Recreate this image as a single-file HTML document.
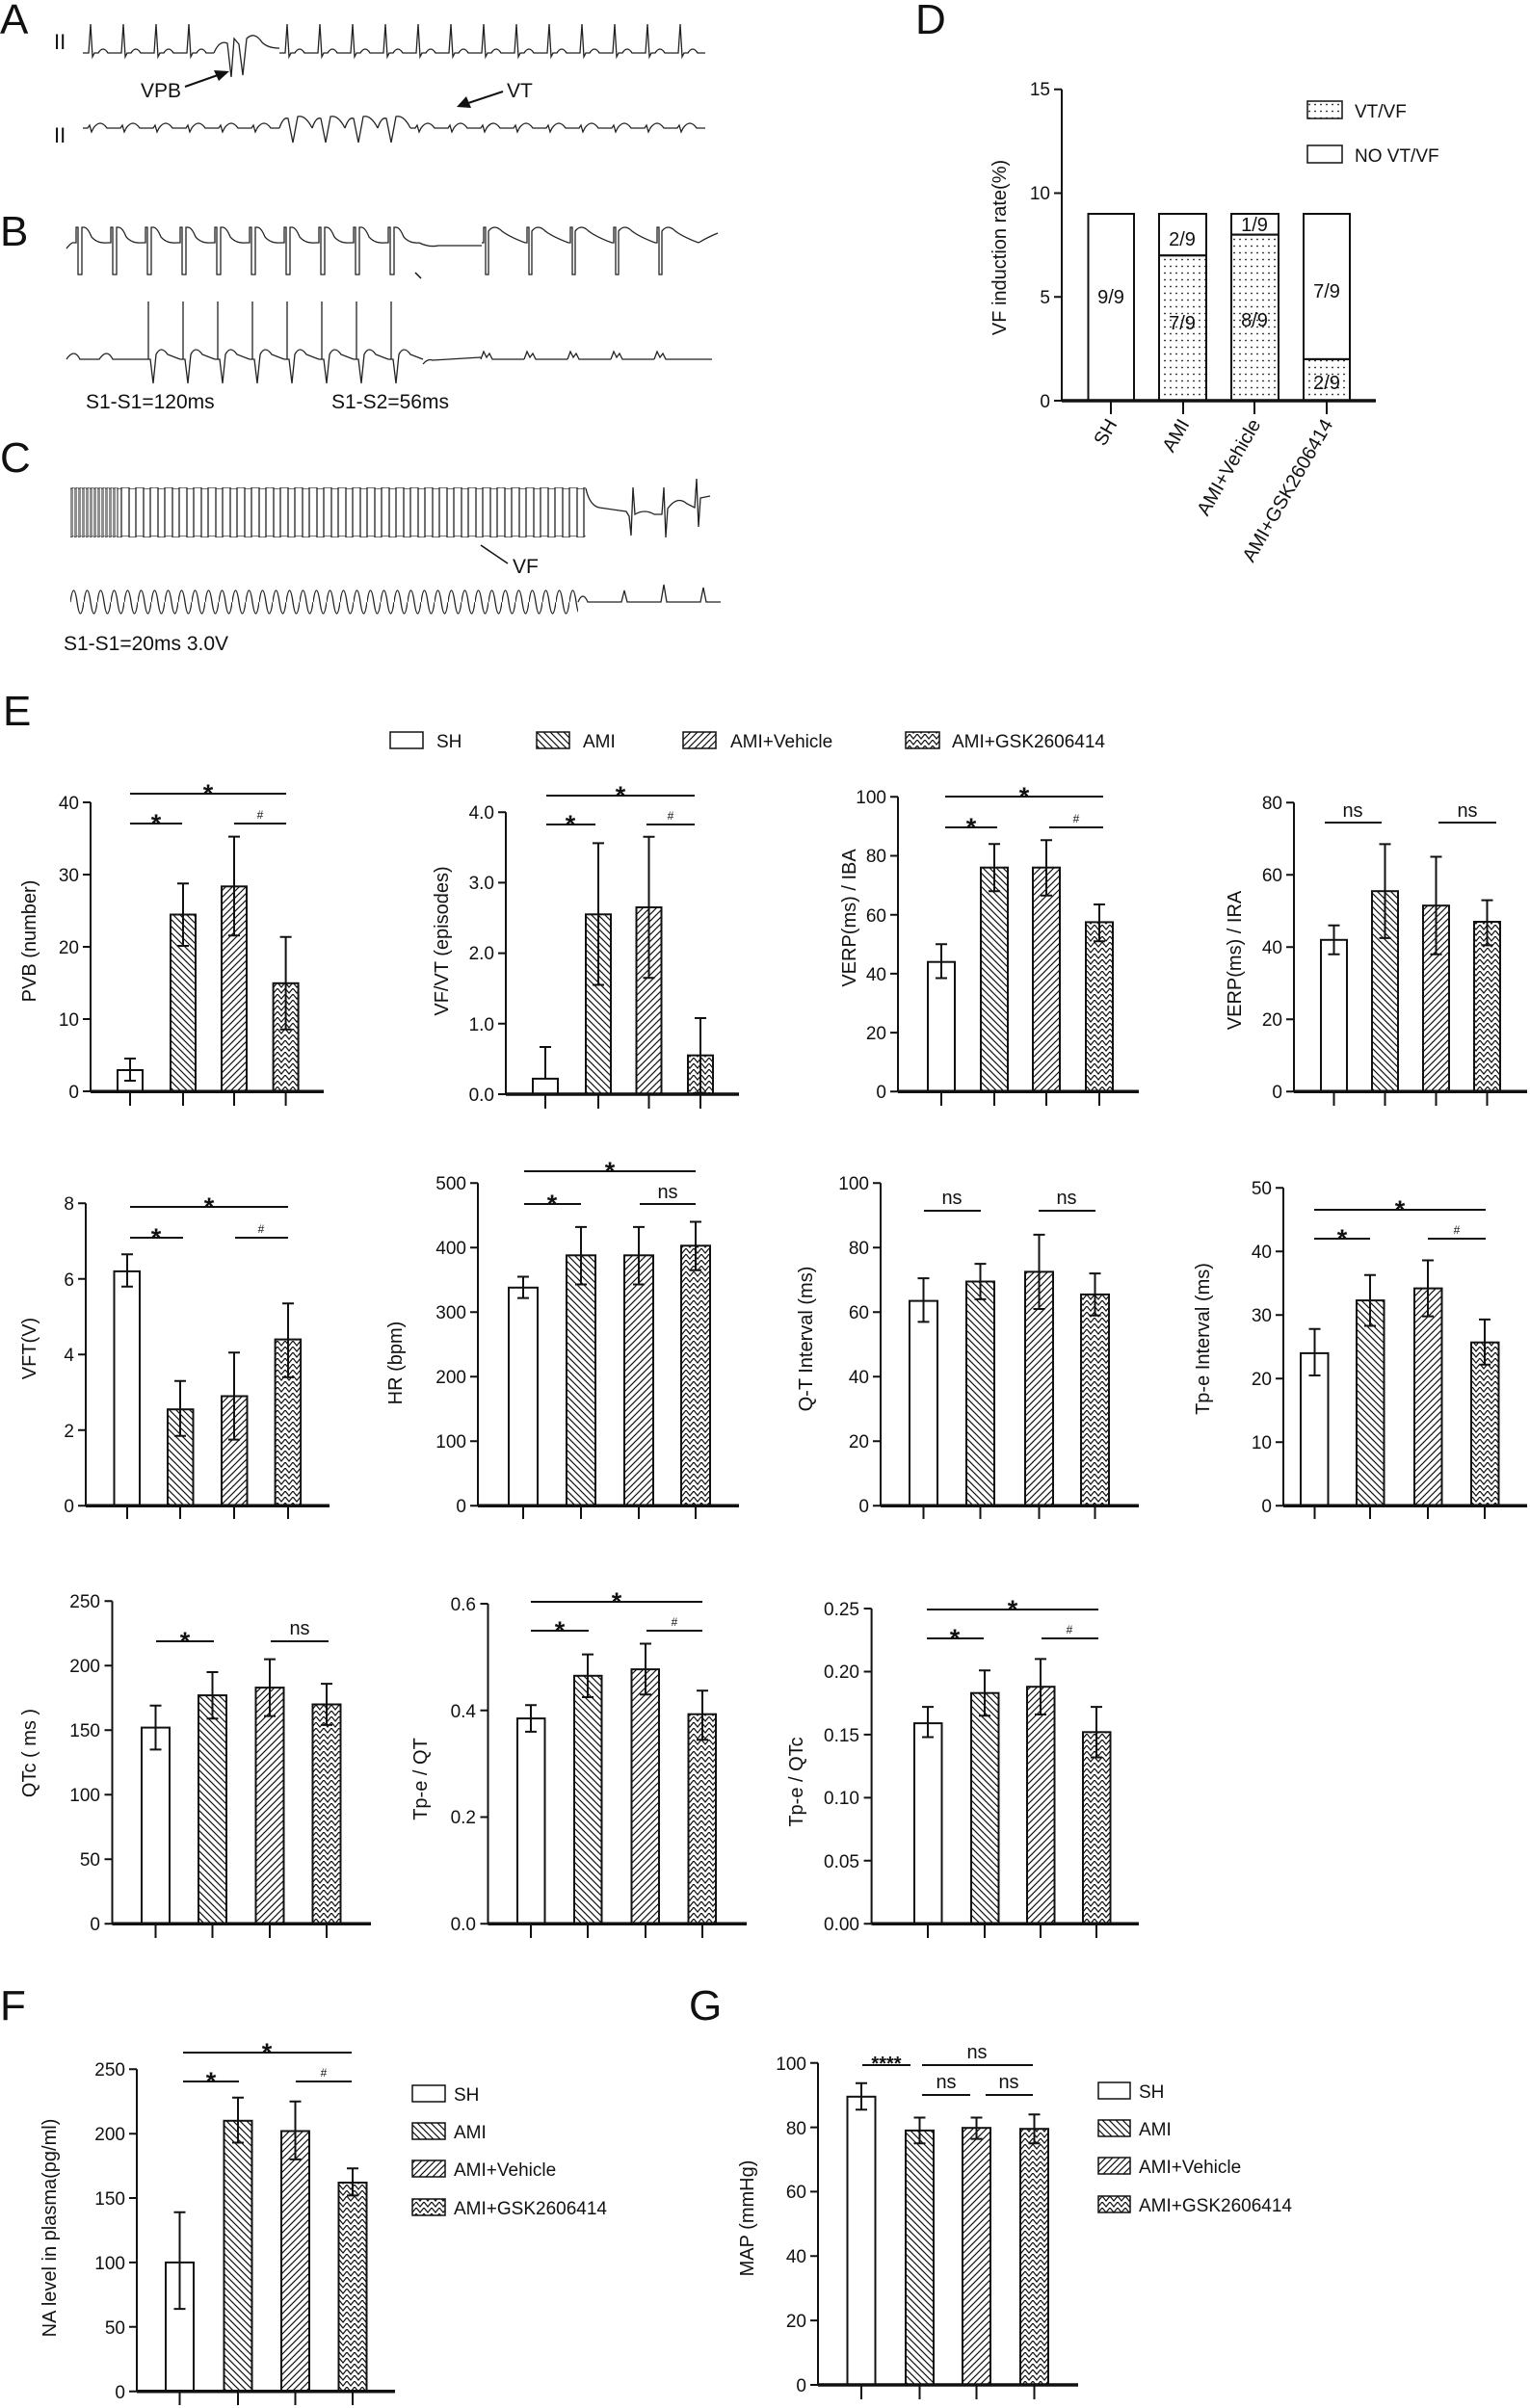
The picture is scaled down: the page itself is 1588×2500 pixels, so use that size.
<!DOCTYPE html>
<html><head><meta charset="utf-8"><style>
html,body{margin:0;padding:0;background:#fff}
svg{display:block}
text{font-family:"Liberation Sans Narrow","Liberation Sans",sans-serif;fill:#111}
.t{font-size:19px;text-anchor:end}
.yl{font-family:"Liberation Sans",sans-serif;font-size:20px;text-anchor:middle}
.L{font-size:44px}
.lg{font-size:19px}
.s{font-size:20px;text-anchor:middle}
.st{font-size:27px;font-weight:bold;text-anchor:middle;font-family:"Liberation Sans",sans-serif}
.h{font-size:12px;text-anchor:middle}
.ax{stroke:#111;stroke-width:2;fill:none}
.xa{stroke:#111;stroke-width:3.5;fill:none}
.b{stroke:#111;stroke-width:2}
.e{stroke:#111;stroke-width:2;fill:none}
.g{stroke:#222;stroke-width:1.3;fill:none}
</style></head><body>
<svg width="1588" height="2500" viewBox="0 0 1588 2500" xmlns="http://www.w3.org/2000/svg">
<defs>
<pattern id="hL" patternUnits="userSpaceOnUse" width="7" height="7"><path d="M-1,-1L8,8M-1,6L1,8M6,-1L8,1" stroke="#111" stroke-width="1.2"/></pattern>
<pattern id="hR" patternUnits="userSpaceOnUse" width="7" height="7"><path d="M-1,8L8,-1M-1,1L1,-1M6,8L8,6" stroke="#111" stroke-width="1.2"/></pattern>
<pattern id="zz" patternUnits="userSpaceOnUse" width="8" height="6"><path d="M0,0L4,5L8,0" stroke="#111" stroke-width="1.2" fill="none"/></pattern>
<pattern id="dt" patternUnits="userSpaceOnUse" width="6" height="7"><circle cx="3" cy="3.5" r="0.9" fill="#111"/></pattern>
<pattern id="sq" patternUnits="userSpaceOnUse" x="73" y="507" width="15" height="50"><path d="M0,50h1V0h7V50h7" stroke="#222" stroke-width="1.3" fill="none"/></pattern>
<pattern id="sq2" patternUnits="userSpaceOnUse" x="73" y="507" width="4" height="50"><path d="M0,50V0h2V50h2" stroke="#222" stroke-width="1" fill="none"/></pattern>
<pattern id="vf" patternUnits="userSpaceOnUse" x="73" y="605" width="14" height="40"><path d="M0,20q3.5,-24 7,0q3.5,24 7,0" stroke="#222" stroke-width="1.3" fill="none"/></pattern>
<path id="bA" d="M0,0h6l2,-30l2,34l2,-4h4q5,-8 10,0h8" class="g"/>
<path id="bA2" d="M0,0h5l2,-3l2,7l2,-4q7,-10 14,0h9" class="g"/>
<path id="bVT" d="M0,0q4,-12 9,-10l5,25l5,-27q8,-2 15,12" class="g"/>
<path id="bB" d="M0,0h4v-16h2v49h4v-49h2q4,0 8,10q6,7 16,6" class="g"/>
<path id="bB2" d="M0,0h2v-16h2v49h3v-45q6,-8 14,0q8,6 24,12" class="g"/>
<path id="bS" d="M0,0h3v-60v60h2l3,25l3,-30q5,-10 12,0l13,5" class="g"/>
<path id="bN" d="M0,0l3,-8l3,6l3,-4l3,6h33" class="g"/>
</defs>

<!-- A -->
<text x="0" y="35" class="L">A</text>
<text x="56" y="51" style="font-size:22px">II</text>
<text x="56" y="148" style="font-size:22px">II</text>
<g transform="translate(0,55)">
<use href="#bA" x="86"/><use href="#bA" x="120"/><use href="#bA" x="154"/><use href="#bA" x="188"/>
<use href="#bA" x="290"/><use href="#bA" x="324"/><use href="#bA" x="358"/><use href="#bA" x="392"/><use href="#bA" x="426"/><use href="#bA" x="460"/><use href="#bA" x="494"/><use href="#bA" x="528"/><use href="#bA" x="562"/><use href="#bA" x="596"/><use href="#bA" x="630"/><use href="#bA" x="664"/><use href="#bA" x="698"/>
</g>
<path class="g" d="M222,55q6,-14 14,-10l4,35l3,-40l5,6l4,32l4,-38q8,-8 16,4q6,6 18,6"/>
<g transform="translate(0,133)">
<use href="#bA2" x="86"/><use href="#bA2" x="120"/><use href="#bA2" x="154"/><use href="#bA2" x="188"/><use href="#bA2" x="222"/><use href="#bA2" x="256"/>
<use href="#bVT" x="290"/><use href="#bVT" x="324"/><use href="#bVT" x="358"/><use href="#bVT" x="392"/>
<use href="#bA2" x="426"/><use href="#bA2" x="460"/><use href="#bA2" x="494"/><use href="#bA2" x="528"/><use href="#bA2" x="562"/><use href="#bA2" x="596"/><use href="#bA2" x="630"/><use href="#bA2" x="664"/><use href="#bA2" x="698"/>
</g>
<text x="146" y="101" style="font-size:21px">VPB</text>
<path d="M192,90L226,78" stroke="#111" stroke-width="2"/><polygon points="238,74 222,73 227,84" fill="#111"/>
<text x="526" y="101" style="font-size:21px">VT</text>
<path d="M522,95L486,107" stroke="#111" stroke-width="2"/><polygon points="474,111 484,100 489,112" fill="#111"/>

<!-- B -->
<text x="0" y="255" class="L">B</text>
<path class="g" d="M69,258q3,-4 6,-6"/>
<g transform="translate(0,252)">
<use href="#bB" x="75"/><use href="#bB" x="111"/><use href="#bB" x="147"/><use href="#bB" x="183"/><use href="#bB" x="219"/><use href="#bB" x="255"/><use href="#bB" x="291"/><use href="#bB" x="327"/><use href="#bB" x="363"/><use href="#bB" x="399"/>
<use href="#bB2" x="500"/><use href="#bB2" x="545"/><use href="#bB2" x="590"/><use href="#bB2" x="635"/><use href="#bB2" x="680"/>
</g>
<path class="g" d="M435,252q10,5 20,3h45M725,252q10,-6 20,-10"/>
<path d="M431,283l6,6" stroke="#111" stroke-width="1.5"/>
<path class="g" d="M69,373q8,-12 14,0h20q8,-12 14,0h34"/>
<g transform="translate(0,373)">
<use href="#bS" x="151"/><use href="#bS" x="187"/><use href="#bS" x="223"/><use href="#bS" x="259"/><use href="#bS" x="295"/><use href="#bS" x="331"/><use href="#bS" x="367"/><use href="#bS" x="403"/>
<use href="#bN" x="499"/><use href="#bN" x="544"/><use href="#bN" x="589"/><use href="#bN" x="634"/><use href="#bN" x="679"/>
</g>
<path class="g" d="M439,378q5,-6 10,-4l50,-3M724,373h15"/>
<text x="89" y="424" style="font-size:21px">S1-S1=120ms</text>
<text x="344" y="424" style="font-size:21px">S1-S2=56ms</text>

<!-- C -->
<text x="0" y="490" class="L">C</text>
<rect x="73" y="506" width="50" height="52" fill="url(#sq2)"/>
<rect x="123" y="506" width="485" height="52" fill="url(#sq)"/>
<path class="g" d="M608,507q4,18 14,20l28,4l3,5l2,20l2,-50l2,28q10,-6 20,0l8,0l2,-28l2,52l2,-30q10,-14 20,-5l8,4l2,-30l2,50l2,-30l10,-2"/>
<path d="M499,566L527,585" stroke="#111" stroke-width="1.5"/>
<text x="532" y="595" style="font-size:21px">VF</text>
<rect x="73" y="605" width="527" height="40" fill="url(#vf)"/>
<path class="g" d="M600,625q5,-12 10,0h35l3,-12l3,12h35l3,-18l3,18h35l3,-15l3,15h15"/>
<text x="66" y="675" style="font-size:21px">S1-S1=20ms 3.0V</text>

<!-- D -->
<text x="950" y="35" class="L">D</text>
<path class="ax" d="M1102,92.7V416M1094,92.7h8M1094,200.5h8M1094,308.3h8M1094,416h8"/>
<text class="t" x="1090" y="99">15</text><text class="t" x="1090" y="207">10</text><text class="t" x="1090" y="315">5</text><text class="t" x="1090" y="423">0</text>
<text class="yl" transform="translate(1044,257) rotate(-90)">VF induction rate(%)</text>
<rect x="1129.5" y="222" width="47.5" height="194" fill="#fff" class="b"/>
<rect x="1203" y="222" width="49" height="43.2" fill="#fff" class="b"/><rect x="1203" y="265.2" width="49" height="150.8" fill="url(#dt)" class="b"/>
<rect x="1278" y="222" width="49" height="21.6" fill="#fff" class="b"/><rect x="1278" y="243.6" width="49" height="172.4" fill="url(#dt)" class="b"/>
<rect x="1353" y="222" width="48" height="150.9" fill="#fff" class="b"/><rect x="1353" y="372.9" width="48" height="43.1" fill="url(#dt)" class="b"/>
<text x="1153" y="315" class="s">9/9</text><text x="1227" y="255" class="s">2/9</text><text x="1227" y="342" class="s">7/9</text><text x="1302" y="240" class="s">1/9</text><text x="1302" y="339" class="s">8/9</text><text x="1377" y="309" class="s">7/9</text><text x="1377" y="404" class="s">2/9</text>
<path class="xa" d="M1102,416H1428"/>
<path class="ax" d="M1153,416v14M1228,416v14M1302,416v14M1377,416v14"/>
<g style="font-family:'Liberation Sans',sans-serif;font-size:20px;text-anchor:end">
<text transform="translate(1160,440) rotate(-60)">SH</text>
<text transform="translate(1235,440) rotate(-60)">AMI</text>
<text transform="translate(1309,440) rotate(-60)">AMI+Vehicle</text>
<text transform="translate(1384,440) rotate(-60)">AMI+GSK2606414</text></g>
<rect x="1357" y="105" width="36" height="18" fill="url(#dt)" class="b" style="stroke-width:1.5"/>
<rect x="1357" y="151" width="36" height="18" fill="#fff" class="b" style="stroke-width:1.5"/>
<text x="1406" y="122" class="lg">VT/VF</text><text x="1406" y="168" class="lg">NO VT/VF</text>

<!-- E -->
<text x="3" y="753" class="L">E</text>
<rect x="405" y="760" width="34" height="17" fill="#fff" class="b" style="stroke-width:1.5"/><text x="453" y="776" class="lg">SH</text>
<rect x="557" y="760" width="34" height="17" fill="url(#hL)" class="b" style="stroke-width:1.5"/><text x="605" y="776" class="lg">AMI</text>
<rect x="709" y="760" width="34" height="17" fill="url(#hR)" class="b" style="stroke-width:1.5"/><text x="758" y="776" class="lg">AMI+Vehicle</text>
<rect x="940" y="760" width="35" height="17" fill="url(#zz)" class="b" style="stroke-width:1.5"/><text x="988" y="776" class="lg">AMI+GSK2606414</text>

<!-- E1-1 PVB -->
<path class="ax" d="M94,833V1133M86,833h8M86,908h8M86,983h8M86,1058h8M86,1133h8"/>
<text class="t" x="82" y="840">40</text><text class="t" x="82" y="915">30</text><text class="t" x="82" y="990">20</text><text class="t" x="82" y="1065">10</text><text class="t" x="82" y="1140">0</text>
<rect x="122" y="1111" width="26" height="22.3" fill="#fff" class="b"/>
<rect x="177" y="949.5" width="26" height="183.8" fill="url(#hL)" class="b"/>
<rect x="230" y="920.3" width="26" height="213" fill="url(#hR)" class="b"/>
<rect x="283.6" y="1020.8" width="26" height="112.5" fill="url(#zz)" class="b"/>
<path class="e" d="M135,1122V1099M129,1099h12M129,1122h12M190,982V917.3M184,917.3h12M184,982h12M243,971.3V868.6M237,868.6h12M237,971.3h12M296.6,1068.8V972.8M290.6,972.8h12M290.6,1068.8h12"/>
<path class="xa" d="M94,1133.3H336"/><path class="ax" d="M135,1133v15M190,1133v15M243,1133v15M296.6,1133v15"/>
<path class="ax" d="M135,824H297M135,855H189M243,855H297"/>
<text class="st" x="216" y="833">*</text><text class="st" x="162" y="864">*</text><text class="h" x="270" y="850">#</text>
<text class="yl" transform="translate(37,977) rotate(-90)">PVB (number)</text>

<!-- E1-2 VF/VT -->
<path class="ax" d="M525,843.2V1136M517,843.2h8M517,916.4h8M517,989.6h8M517,1062.8h8M517,1136h8"/>
<text class="t" x="513" y="850">4.0</text><text class="t" x="513" y="923">3.0</text><text class="t" x="513" y="996">2.0</text><text class="t" x="513" y="1070">1.0</text><text class="t" x="513" y="1143">0.0</text>
<rect x="553" y="1119.9" width="26" height="16.1" fill="#fff" class="b"/>
<rect x="608" y="949.3" width="26" height="186.7" fill="url(#hL)" class="b"/>
<rect x="660.5" y="942" width="26" height="194" fill="url(#hR)" class="b"/>
<rect x="714" y="1095.7" width="26" height="40.3" fill="url(#zz)" class="b"/>
<path class="e" d="M566,1119.9V1087M560,1087h12M621,1022.5V875.4M615,875.4h12M615,1022.5h12M673.5,1015.2V868.8M667.5,868.8h12M667.5,1015.2h12M727,1134.5V1057M721,1057h12M721,1134.5h12"/>
<path class="xa" d="M525,1136H767"/><path class="ax" d="M566,1136v15M621,1136v15M673.5,1136v15M727,1136v15"/>
<path class="ax" d="M567,826H721M567,856H618M671,856H721"/>
<text class="st" x="644" y="835">*</text><text class="st" x="592" y="865">*</text><text class="h" x="696" y="851">#</text>
<text class="yl" transform="translate(465,977) rotate(-90)">VF/VT (episodes)</text>

<!-- E1-3 VERP/IBA -->
<path class="ax" d="M932,827.3V1133.3M924,827.3h8M924,888.5h8M924,949.7h8M924,1010.9h8M924,1072.1h8M924,1133.3h8"/>
<text class="t" x="920" y="834">100</text><text class="t" x="920" y="895">80</text><text class="t" x="920" y="957">60</text><text class="t" x="920" y="1018">40</text><text class="t" x="920" y="1079">20</text><text class="t" x="920" y="1140">0</text>
<rect x="963" y="998.7" width="28" height="134.6" fill="#fff" class="b"/>
<rect x="1018" y="900.7" width="28" height="232.6" fill="url(#hL)" class="b"/>
<rect x="1072" y="900.7" width="28" height="232.6" fill="url(#hR)" class="b"/>
<rect x="1127" y="957.4" width="28" height="175.9" fill="url(#zz)" class="b"/>
<path class="e" d="M977,1015.5V980.3M971,980.3h12M971,1015.5h12M1032,925.2V876.3M1026,876.3h12M1026,925.2h12M1086,929.8V872.3M1080,872.3h12M1080,929.8h12M1141,977.2V939M1135,939h12M1135,977.2h12"/>
<path class="xa" d="M932,1133.3H1182"/><path class="ax" d="M977,1133v15M1032,1133v15M1086,1133v15M1141,1133v15"/>
<path class="ax" d="M981,827H1145M981,859H1035M1089,859H1145"/>
<text class="st" x="1063" y="836">*</text><text class="st" x="1008" y="868">*</text><text class="h" x="1117" y="854">#</text>
<text class="yl" transform="translate(888,953) rotate(-90)">VERP(ms) / IBA</text>

<!-- E1-4 VERP/IRA -->
<path class="ax" d="M1343,833.3V1133.3M1335,833.3h8M1335,908.3h8M1335,983.3h8M1335,1058.3h8M1335,1133.3h8"/>
<text class="t" x="1331" y="840">80</text><text class="t" x="1331" y="915">60</text><text class="t" x="1331" y="990">40</text><text class="t" x="1331" y="1065">20</text><text class="t" x="1331" y="1140">0</text>
<rect x="1371" y="975.8" width="27" height="157.5" fill="#fff" class="b"/>
<rect x="1424" y="925.2" width="27" height="208.1" fill="url(#hL)" class="b"/>
<rect x="1477" y="940.2" width="27" height="193.1" fill="url(#hR)" class="b"/>
<rect x="1530" y="957" width="27" height="176.3" fill="url(#zz)" class="b"/>
<path class="e" d="M1384.5,990.8V960.8M1378.5,960.8h12M1378.5,990.8h12M1437.5,973.9V876.4M1431.5,876.4h12M1431.5,973.9h12M1490.5,990.8V889.5M1484.5,889.5h12M1484.5,990.8h12M1543.5,981.4V934.6M1537.5,934.6h12M1537.5,981.4h12"/>
<path class="xa" d="M1343,1133.3H1585"/><path class="ax" d="M1384.5,1133v15M1437.5,1133v15M1490.5,1133v15M1543.5,1133v15"/>
<path class="ax" d="M1375,854H1434M1493,854H1553"/>
<text class="s" x="1404" y="848">ns</text><text class="s" x="1523" y="848">ns</text>
<text class="yl" transform="translate(1288,997) rotate(-90)">VERP(ms) / IRA</text>

<!-- E2-1 VFT -->
<path class="ax" d="M89,1249.3V1563.3M81,1249.3h8M81,1327.8h8M81,1406.3h8M81,1484.8h8M81,1563.3h8"/>
<text class="t" x="77" y="1256">8</text><text class="t" x="77" y="1335">6</text><text class="t" x="77" y="1413">4</text><text class="t" x="77" y="1492">2</text><text class="t" x="77" y="1570">0</text>
<rect x="118.5" y="1319.9" width="26.5" height="243.4" fill="#fff" class="b"/>
<rect x="174" y="1463.2" width="26.5" height="100.1" fill="url(#hL)" class="b"/>
<rect x="230" y="1449.5" width="26.5" height="113.8" fill="url(#hR)" class="b"/>
<rect x="285.6" y="1390.6" width="26.5" height="172.7" fill="url(#zz)" class="b"/>
<path class="e" d="M132,1335.7V1302.3M126,1302.3h12M126,1335.7h12M187,1490.7V1433.8M181,1433.8h12M181,1490.7h12M243,1494.6V1404.3M237,1404.3h12M237,1494.6h12M299,1429.9V1353.3M293,1353.3h12M293,1429.9h12"/>
<path class="xa" d="M89,1563.3H342"/><path class="ax" d="M132,1563v14M187,1563v14M243,1563v14M299,1563v14"/>
<path class="ax" d="M135,1253H299M135,1285H190M244,1285H299"/>
<text class="st" x="217" y="1262">*</text><text class="st" x="162" y="1294">*</text><text class="h" x="271" y="1280">#</text>
<text class="yl" transform="translate(37,1400) rotate(-90)">VFT(V)</text>

<!-- E2-2 HR -->
<path class="ax" d="M496,1228.3V1563.3M488,1228.3h8M488,1295.3h8M488,1362.3h8M488,1429.3h8M488,1496.3h8M488,1563.3h8"/>
<text class="t" x="484" y="1235">500</text><text class="t" x="484" y="1302">400</text><text class="t" x="484" y="1369">300</text><text class="t" x="484" y="1436">200</text><text class="t" x="484" y="1503">100</text><text class="t" x="484" y="1570">0</text>
<rect x="528" y="1336.8" width="30" height="226.5" fill="#fff" class="b"/>
<rect x="588" y="1303.3" width="30" height="260" fill="url(#hL)" class="b"/>
<rect x="648" y="1303.3" width="30" height="260" fill="url(#hR)" class="b"/>
<rect x="707" y="1293.3" width="30" height="270" fill="url(#zz)" class="b"/>
<path class="e" d="M543,1347.6V1325.5M537,1325.5h12M537,1347.6h12M603,1333.5V1273.9M597,1273.9h12M597,1333.5h12M663,1333.5V1273.9M657,1273.9h12M657,1333.5h12M722,1318.8V1268.5M716,1268.5h12M716,1318.8h12"/>
<path class="xa" d="M496,1563.3H767"/><path class="ax" d="M543,1563v14M603,1563v14M663,1563v14M722,1563v14"/>
<path class="ax" d="M544,1216H722M544,1250H603M664,1250H722"/>
<text class="st" x="633" y="1225">*</text><text class="st" x="573" y="1259">*</text><text class="s" x="693" y="1244">ns</text>
<text class="yl" transform="translate(417,1415) rotate(-90)">HR (bpm)</text>

<!-- E2-3 QT -->
<path class="ax" d="M914,1228.3V1563.3M906,1228.3h8M906,1295.3h8M906,1362.3h8M906,1429.3h8M906,1496.3h8M906,1563.3h8"/>
<text class="t" x="902" y="1235">100</text><text class="t" x="902" y="1302">80</text><text class="t" x="902" y="1369">60</text><text class="t" x="902" y="1436">40</text><text class="t" x="902" y="1503">20</text><text class="t" x="902" y="1570">0</text>
<rect x="944" y="1350.6" width="29" height="212.7" fill="#fff" class="b"/>
<rect x="1003" y="1330.5" width="29" height="232.8" fill="url(#hL)" class="b"/>
<rect x="1064" y="1320.4" width="29" height="242.9" fill="url(#hR)" class="b"/>
<rect x="1122" y="1343.9" width="29" height="219.4" fill="url(#zz)" class="b"/>
<path class="e" d="M958.5,1372.4V1327.1M952.5,1327.1h12M952.5,1372.4h12M1017.5,1348.9V1312.1M1011.5,1312.1h12M1011.5,1348.9h12M1078.5,1359V1281.9M1072.5,1281.9h12M1072.5,1359h12M1136.5,1365.7V1322.1M1130.5,1322.1h12M1130.5,1365.7h12"/>
<path class="xa" d="M914,1563.3H1182"/><path class="ax" d="M958.5,1563v14M1017.5,1563v14M1078.5,1563v14M1136.5,1563v14"/>
<path class="ax" d="M959,1257H1018M1078,1257H1137"/>
<text class="s" x="988" y="1250">ns</text><text class="s" x="1107" y="1250">ns</text>
<text class="yl" transform="translate(843,1390) rotate(-90)">Q-T Interval (ms)</text>

<!-- E2-4 Tp-e -->
<path class="ax" d="M1332,1233.3V1563.3M1324,1233.3h8M1324,1299.3h8M1324,1365.3h8M1324,1431.3h8M1324,1497.3h8M1324,1563.3h8"/>
<text class="t" x="1320" y="1240">50</text><text class="t" x="1320" y="1306">40</text><text class="t" x="1320" y="1372">30</text><text class="t" x="1320" y="1438">20</text><text class="t" x="1320" y="1504">10</text><text class="t" x="1320" y="1570">0</text>
<rect x="1350" y="1404.9" width="28.5" height="158.4" fill="#fff" class="b"/>
<rect x="1408" y="1350.1" width="28.5" height="213.2" fill="url(#hL)" class="b"/>
<rect x="1468" y="1337.6" width="28.5" height="225.7" fill="url(#hR)" class="b"/>
<rect x="1527" y="1393.7" width="28.5" height="169.6" fill="url(#zz)" class="b"/>
<path class="e" d="M1364.5,1428V1379.8M1358.5,1379.8h12M1358.5,1428h12M1422,1376.5V1323.7M1416,1323.7h12M1416,1376.5h12M1482,1366.6V1308.5M1476,1308.5h12M1476,1366.6h12M1541,1416.8V1369.9M1535,1369.9h12M1535,1416.8h12"/>
<path class="xa" d="M1332,1563.3H1585"/><path class="ax" d="M1364.5,1563v14M1422,1563v14M1482,1563v14M1541,1563v14"/>
<path class="ax" d="M1364,1256H1542M1364,1286H1422M1482,1286H1542"/>
<text class="st" x="1453" y="1265">*</text><text class="st" x="1393" y="1295">*</text><text class="h" x="1512" y="1281">#</text>
<text class="yl" transform="translate(1255,1390) rotate(-90)">Tp-e Interval (ms)</text>

<!-- E3-1 QTc -->
<path class="ax" d="M116.5,1662.3V1997.3M108.5,1662.3h8M108.5,1729.3h8M108.5,1796.3h8M108.5,1863.3h8M108.5,1930.3h8M108.5,1997.3h8"/>
<text class="t" x="104" y="1669">250</text><text class="t" x="104" y="1736">200</text><text class="t" x="104" y="1803">150</text><text class="t" x="104" y="1870">100</text><text class="t" x="104" y="1937">50</text><text class="t" x="104" y="2004">0</text>
<rect x="147" y="1793.6" width="29" height="203.7" fill="#fff" class="b"/>
<rect x="206" y="1760.1" width="29" height="237.2" fill="url(#hL)" class="b"/>
<rect x="265.5" y="1752.1" width="29" height="245.2" fill="url(#hR)" class="b"/>
<rect x="324.5" y="1769.5" width="29" height="227.8" fill="url(#zz)" class="b"/>
<path class="e" d="M161.5,1816.4V1770.8M155.5,1770.8h12M155.5,1816.4h12M220.5,1784.2V1736M214.5,1736h12M214.5,1784.2h12M280,1781.6V1722.6M274,1722.6h12M274,1781.6h12M339,1790.9V1748.1M333,1748.1h12M333,1790.9h12"/>
<path class="xa" d="M116.5,1997.3H385"/><path class="ax" d="M161.5,1997v15M220.5,1997v15M280,1997v15M339,1997v15"/>
<path class="ax" d="M162,1704H222M281,1704H341"/>
<text class="st" x="192" y="1713">*</text><text class="s" x="311" y="1697">ns</text>
<text class="yl" transform="translate(37,1820) rotate(-90)">QTc ( ms )</text>

<!-- E3-2 Tp-e/QT -->
<path class="ax" d="M506.5,1665V1997.3M498.5,1665h8M498.5,1775.8h8M498.5,1886.5h8M498.5,1997.3h8"/>
<text class="t" x="494" y="1672">0.6</text><text class="t" x="494" y="1783">0.4</text><text class="t" x="494" y="1893">0.2</text><text class="t" x="494" y="2004">0.0</text>
<rect x="537" y="1784.1" width="28.5" height="213.2" fill="#fff" class="b"/>
<rect x="596" y="1739.8" width="28.5" height="257.5" fill="url(#hL)" class="b"/>
<rect x="655.5" y="1733.1" width="28.5" height="264.2" fill="url(#hR)" class="b"/>
<rect x="714.5" y="1779.7" width="28.5" height="217.6" fill="url(#zz)" class="b"/>
<path class="e" d="M551,1797.9V1770.2M545,1770.2h12M545,1797.9h12M610,1762V1717.6M604,1717.6h12M604,1762h12M670,1759.2V1706.5M664,1706.5h12M664,1759.2h12M729,1806.2V1755.3M723,1755.3h12M723,1806.2h12"/>
<path class="xa" d="M506.5,1997.3H775"/><path class="ax" d="M551,1997v15M610,1997v15M670,1997v15M729,1997v15"/>
<path class="ax" d="M551,1663H729M551,1693H611M671,1693H729"/>
<text class="st" x="640" y="1672">*</text><text class="st" x="581" y="1702">*</text><text class="h" x="700" y="1688">#</text>
<text class="yl" transform="translate(443,1847) rotate(-90)">Tp-e / QT</text>

<!-- E3-3 Tp-e/QTc -->
<path class="ax" d="M904.6,1670V1997.3M896.6,1670h8M896.6,1735.5h8M896.6,1800.9h8M896.6,1866.4h8M896.6,1931.8h8M896.6,1997.3h8"/>
<text class="t" x="892" y="1677">0.25</text><text class="t" x="892" y="1742">0.20</text><text class="t" x="892" y="1808">0.15</text><text class="t" x="892" y="1873">0.10</text><text class="t" x="892" y="1939">0.05</text><text class="t" x="892" y="2004">0.00</text>
<rect x="949" y="1789.1" width="28.5" height="208.2" fill="#fff" class="b"/>
<rect x="1008" y="1757.7" width="28.5" height="239.6" fill="url(#hL)" class="b"/>
<rect x="1066" y="1751.2" width="28.5" height="246.1" fill="url(#hR)" class="b"/>
<rect x="1124" y="1798.3" width="28.5" height="199" fill="url(#zz)" class="b"/>
<path class="e" d="M963,1803.5V1772.1M957,1772.1h12M957,1803.5h12M1022,1781.3V1734.2M1016,1734.2h12M1016,1781.3h12M1080,1780V1722.4M1074,1722.4h12M1074,1780h12M1138,1824.5V1772.1M1132,1772.1h12M1132,1824.5h12"/>
<path class="xa" d="M904.6,1997.3H1182"/><path class="ax" d="M963,1997v15M1022,1997v15M1080,1997v15M1138,1997v15"/>
<path class="ax" d="M962,1671H1140M962,1701H1021M1081,1701H1140"/>
<text class="st" x="1051" y="1680">*</text><text class="st" x="991" y="1710">*</text><text class="h" x="1110" y="1696">#</text>
<text class="yl" transform="translate(833,1850) rotate(-90)">Tp-e / QTc</text>

<!-- F -->
<text x="0" y="2097" class="L">F</text>
<path class="ax" d="M142,2148.3V2482.7M134,2148.3h8M134,2215.2h8M134,2282h8M134,2348.9h8M134,2415.8h8M134,2482.7h8"/>
<text class="t" x="130" y="2155">250</text><text class="t" x="130" y="2222">200</text><text class="t" x="130" y="2289">150</text><text class="t" x="130" y="2356">100</text><text class="t" x="130" y="2423">50</text><text class="t" x="130" y="2490">0</text>
<rect x="172" y="2348.9" width="29" height="133.8" fill="#fff" class="b"/>
<rect x="232.5" y="2201.8" width="29" height="280.9" fill="url(#hL)" class="b"/>
<rect x="292" y="2212.5" width="29" height="270.2" fill="url(#hR)" class="b"/>
<rect x="351.5" y="2266" width="29" height="216.7" fill="url(#zz)" class="b"/>
<path class="e" d="M186.5,2397.1V2296.8M180.5,2296.8h12M180.5,2397.1h12M247,2224.5V2177.7M241,2177.7h12M241,2224.5h12M306.5,2241.9V2181.7M300.5,2181.7h12M300.5,2241.9h12M366,2279.4V2251.3M360,2251.3h12M360,2279.4h12"/>
<path class="xa" d="M142,2482.7H410"/><path class="ax" d="M186.5,2483v14M247,2483v14M306.5,2483v14M366,2483v14"/>
<path class="ax" d="M190,2131H365M190,2161H248M307,2161H365"/>
<text class="st" x="277" y="2140">*</text><text class="st" x="219" y="2170">*</text><text class="h" x="336" y="2156">#</text>
<text class="yl" transform="translate(58,2313) rotate(-90)">NA level in plasma(pg/ml)</text>
<rect x="428" y="2165" width="34" height="17" fill="#fff" class="b" style="stroke-width:1.5"/><text x="471" y="2181" class="lg">SH</text>
<rect x="428" y="2204" width="34" height="17" fill="url(#hL)" class="b" style="stroke-width:1.5"/><text x="471" y="2220" class="lg">AMI</text>
<rect x="428" y="2243" width="34" height="17" fill="url(#hR)" class="b" style="stroke-width:1.5"/><text x="471" y="2259" class="lg">AMI+Vehicle</text>
<rect x="428" y="2283" width="34" height="17" fill="url(#zz)" class="b" style="stroke-width:1.5"/><text x="471" y="2299" class="lg">AMI+GSK2606414</text>

<!-- G -->
<text x="715" y="2097" class="L">G</text>
<path class="ax" d="M849,2141.7V2476M841,2141.7h8M841,2208.6h8M841,2275.4h8M841,2342.3h8M841,2409.1h8M841,2476h8"/>
<text class="t" x="837" y="2149">100</text><text class="t" x="837" y="2216">80</text><text class="t" x="837" y="2282">60</text><text class="t" x="837" y="2349">40</text><text class="t" x="837" y="2416">20</text><text class="t" x="837" y="2483">0</text>
<rect x="879.5" y="2176.8" width="29" height="299.2" fill="#fff" class="b"/>
<rect x="940" y="2211.9" width="29" height="264.1" fill="url(#hL)" class="b"/>
<rect x="999" y="2209.2" width="29" height="266.8" fill="url(#hR)" class="b"/>
<rect x="1059" y="2210.2" width="29" height="265.8" fill="url(#zz)" class="b"/>
<path class="e" d="M894,2190.2V2162.8M888,2162.8h12M888,2190.2h12M954.5,2225.3V2198.5M948.5,2198.5h12M948.5,2225.3h12M1013.5,2220.6V2198.5M1007.5,2198.5h12M1007.5,2220.6h12M1073.5,2225.3V2195.2M1067.5,2195.2h12M1067.5,2225.3h12"/>
<path class="xa" d="M849,2476H1119"/><path class="ax" d="M894,2476v15M954.5,2476v15M1013.5,2476v15M1073.5,2476v15"/>
<path class="ax" d="M895,2144H945M957,2144H1072M957,2175H1007M1023,2175H1072"/>
<text class="st" x="920" y="2149" style="font-size:20px">****</text><text class="s" x="1014" y="2137">ns</text><text class="s" x="982" y="2168">ns</text><text class="s" x="1047" y="2168">ns</text>
<text class="yl" transform="translate(782,2303) rotate(-90)">MAP (mmHg)</text>
<rect x="1140" y="2162" width="33" height="17" fill="#fff" class="b" style="stroke-width:1.5"/><text x="1182" y="2178" class="lg">SH</text>
<rect x="1140" y="2201" width="33" height="17" fill="url(#hL)" class="b" style="stroke-width:1.5"/><text x="1182" y="2217" class="lg">AMI</text>
<rect x="1140" y="2240" width="33" height="17" fill="url(#hR)" class="b" style="stroke-width:1.5"/><text x="1182" y="2256" class="lg">AMI+Vehicle</text>
<rect x="1140" y="2280" width="33" height="17" fill="url(#zz)" class="b" style="stroke-width:1.5"/><text x="1182" y="2296" class="lg">AMI+GSK2606414</text>
</svg>
</body></html>
